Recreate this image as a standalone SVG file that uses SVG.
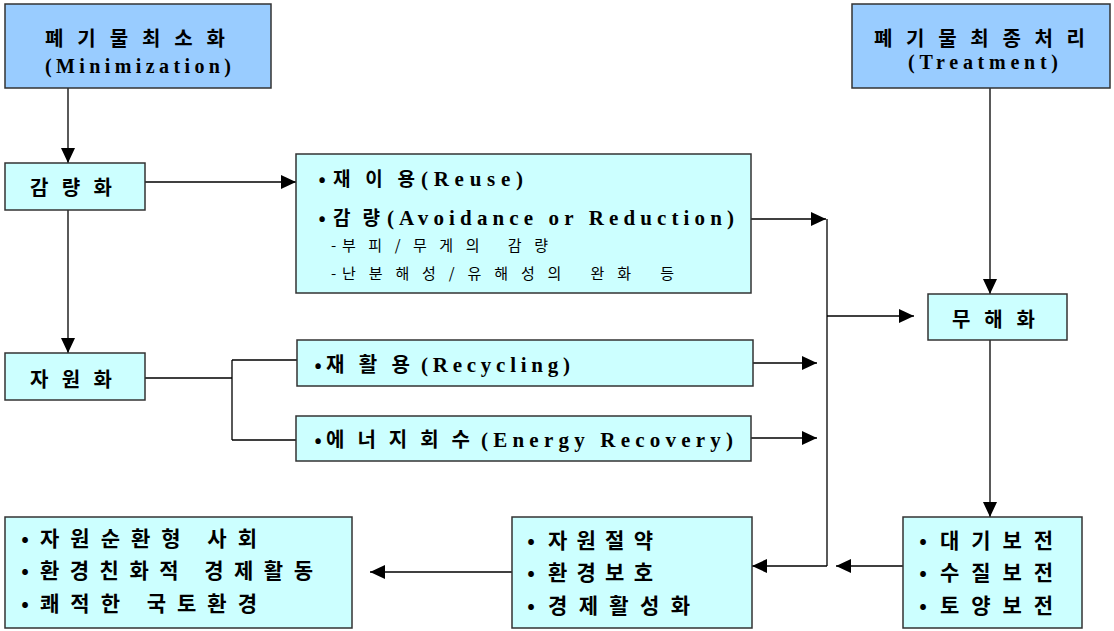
<svg xmlns="http://www.w3.org/2000/svg" width="1114" height="631" viewBox="0 0 1114 631">
<style>
.top{fill:#99CCFF;stroke:#333;stroke-width:1.5}
.box{fill:#CCFFFF;stroke:#333;stroke-width:1.5}
.k{font-family:"Noto Sans CJK KR","Liberation Sans",sans-serif;font-weight:bold;fill:#000}
.e{font-family:"Liberation Serif",serif;font-weight:bold;fill:#000}
.n{font-family:"Noto Sans CJK KR","Liberation Sans",sans-serif;font-weight:normal;fill:#000}
.b{text-anchor:middle}
.c{fill:none;stroke:#000;stroke-width:1.3}
.a{marker-end:url(#ah)}
</style>
<defs>
<marker id="ah" markerUnits="userSpaceOnUse" markerWidth="16" markerHeight="14" refX="15" refY="7" orient="auto">
<path d="M0,0 L15,7 L0,14 Z" fill="#000"/>
</marker>
</defs>
<rect width="1114" height="631" fill="#fff"/>
<g id="connectors">
<path class="c a" d="M68,88 V163"/>
<path class="c a" d="M145,182 H296"/>
<path class="c a" d="M68,210 V353"/>
<path class="c" d="M145,378 H232 M232,360 V440 M232,360 H297 M232,440 H296"/>
<path class="c a" d="M751,219 H826"/>
<path class="c a" d="M753,363 H817"/>
<path class="c a" d="M751,438 H817"/>
<path class="c" d="M827,219 V566"/>
<path class="c a" d="M827,316 H914"/>
<path class="c a" d="M990,88 V294"/>
<path class="c a" d="M990,340 V517"/>
<path class="c a" d="M903,566 H836"/>
<path class="c a" d="M827,566 H752"/>
<path class="c a" d="M512,572 H370"/>
</g>
<g id="minimization">
<rect class="top" x="5" y="4" width="266" height="84"/>
<text class="k" x="45" y="46" font-size="20" textLength="180" lengthAdjust="spacing">폐기물최소화</text>
<text class="e" x="45" y="73" font-size="20" textLength="186" lengthAdjust="spacing">(Minimization)</text>
</g>
<g id="treatment">
<rect class="top" x="852" y="4" width="258" height="84"/>
<text class="k" x="874" y="46" font-size="20" textLength="211" lengthAdjust="spacing">폐기물최종처리</text>
<text class="e" x="908" y="69" font-size="20" textLength="150" lengthAdjust="spacing">(Treatment)</text>
</g>
<g id="gamryanghwa">
<rect class="box" x="5" y="163" width="140" height="47"/>
<text class="k" x="30" y="195" font-size="20" textLength="82" lengthAdjust="spacing">감량화</text>
</g>
<g id="reduction">
<rect class="box" x="296" y="154" width="455" height="139"/>
<text class="k b" x="322" y="186" font-size="19">•</text>
<text class="k" x="333" y="186" font-size="19" textLength="82" lengthAdjust="spacing">재이용</text>
<text class="e" x="421" y="186" font-size="21" textLength="102" lengthAdjust="spacing">(Reuse)</text>
<text class="k b" x="322" y="225" font-size="19">•</text>
<text class="k" x="333" y="225" font-size="19" textLength="47" lengthAdjust="spacing">감량</text>
<text class="e" x="387" y="225" font-size="21" textLength="347" lengthAdjust="spacing">(Avoidance or Reduction)</text>
<text class="n" x="331" y="251" font-size="15">-</text>
<text class="n" x="342" y="251" font-size="15" textLength="206" lengthAdjust="spacing">부피/무게의 감량</text>
<text class="n" x="331" y="279" font-size="15">-</text>
<text class="n" x="342" y="279" font-size="15" textLength="332" lengthAdjust="spacing">난분해성/유해성의 완화 등</text>
</g>
<g id="jawonhwa">
<rect class="box" x="5" y="353" width="140" height="47"/>
<text class="k" x="30" y="387" font-size="20" textLength="82" lengthAdjust="spacing">자원화</text>
</g>
<g id="recycling">
<rect class="box" x="297" y="340" width="456" height="46"/>
<text class="k b" x="318" y="372" font-size="19">•</text>
<text class="k" x="326" y="372" font-size="20" textLength="84" lengthAdjust="spacing">재활용</text>
<text class="e" x="421" y="372" font-size="21" textLength="149" lengthAdjust="spacing">(Recycling)</text>
</g>
<g id="energy">
<rect class="box" x="296" y="416" width="455" height="45"/>
<text class="k b" x="318" y="447" font-size="19">•</text>
<text class="k" x="326" y="447" font-size="20" textLength="144" lengthAdjust="spacing">에너지회수</text>
<text class="e" x="481" y="447" font-size="21" textLength="252" lengthAdjust="spacing">(Energy Recovery)</text>
</g>
<g id="muhaehwa">
<rect class="box" x="928" y="294" width="139" height="46"/>
<text class="k" x="952" y="327" font-size="20" textLength="83" lengthAdjust="spacing">무해화</text>
</g>
<g id="conservation">
<rect class="box" x="903" y="517" width="179" height="111"/>
<text class="k b" x="923" y="548" font-size="20">•</text>
<text class="k" x="940" y="548" font-size="21" textLength="113" lengthAdjust="spacing">대기보전</text>
<text class="k b" x="923" y="580" font-size="20">•</text>
<text class="k" x="940" y="580" font-size="21" textLength="113" lengthAdjust="spacing">수질보전</text>
<text class="k b" x="923" y="613" font-size="20">•</text>
<text class="k" x="940" y="613" font-size="21" textLength="113" lengthAdjust="spacing">토양보전</text>
</g>
<g id="effects">
<rect class="box" x="512" y="517" width="240" height="111"/>
<text class="k b" x="531" y="548" font-size="20">•</text>
<text class="k" x="548" y="548" font-size="21" textLength="105" lengthAdjust="spacing">자원절약</text>
<text class="k b" x="531" y="580" font-size="20">•</text>
<text class="k" x="548" y="580" font-size="21" textLength="105" lengthAdjust="spacing">환경보호</text>
<text class="k b" x="531" y="613" font-size="20">•</text>
<text class="k" x="548" y="613" font-size="21" textLength="142" lengthAdjust="spacing">경제활성화</text>
</g>
<g id="society">
<rect class="box" x="5" y="517" width="347" height="111"/>
<text class="k b" x="25" y="546" font-size="20">•</text>
<text class="k" x="40" y="546" font-size="21" textLength="217" lengthAdjust="spacing">자원순환형 사회</text>
<text class="k b" x="25" y="578" font-size="20">•</text>
<text class="k" x="40" y="578" font-size="21" textLength="273" lengthAdjust="spacing">환경친화적 경제활동</text>
<text class="k b" x="25" y="611" font-size="20">•</text>
<text class="k" x="40" y="611" font-size="21" textLength="217" lengthAdjust="spacing">쾌적한 국토환경</text>
</g>
</svg>
